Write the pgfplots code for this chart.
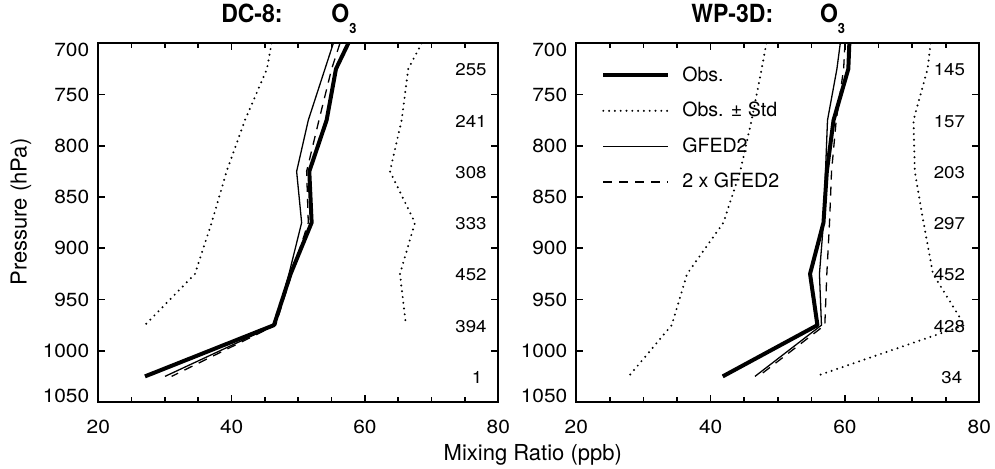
\documentclass[border=0pt]{standalone}
\usepackage{fontspec}
\setmainfont{TeX Gyre Heros}
\newfontfamily\tickfont[FakeStretch=1.1]{TeX Gyre Heros}
\newfontfamily\titlefont[FakeStretch=0.92]{TeX Gyre Heros}
\usepackage{pgfplots}
\pgfplotsset{compat=1.18}

\pgfplotsset{
  o3panel/.style={
    scale only axis, height=179.35pt,
    xmin=20, xmax=80, ymin=700, ymax=1050, y dir=reverse,
    xtick={20,40,60,80}, minor x tick num=3,
    ytick={700,750,...,1050},
    major tick length=3.5pt, minor tick length=2.3pt,
    axis line style={line width=0.9pt},
    tick style={line width=0.8pt, black},
    tick label style={font=\tickfont\fontsize{9.5}{11}\selectfont},
    /pgf/number format/assume math mode=true,
    /pgf/number format/1000 sep={},
    xticklabel style={yshift=-5.3pt},
    yticklabel style={xshift=-1pt, yshift={{-3.5,0,0,0,0,0,0,3}[\ticknum]*1pt}},
    clip mode=individual,
  },
}
\tikzset{
  obs/.style={black, line width=2pt, line join=round},
  gfed/.style={black, line width=0.65pt},
  gfedx/.style={black, line width=0.65pt, dash pattern=on 4.5pt off 3.5pt},
  stdline/.style={black, line width=1.1pt, line cap=round, dash pattern=on 0pt off 2.9pt},
  num/.style={font=\tickfont\fontsize{8.5}{10}\selectfont},
  ttl/.style={font=\titlefont\bfseries\fontsize{12.5}{14}\selectfont, inner sep=0pt},
}
\newcommand{\Othree}{O\raisebox{-5.8pt}{\fontsize{7}{8}\selectfont 3}}

\begin{document}
\begin{tikzpicture}
\useasboundingbox (-49.15pt,-33pt) rectangle (448.35pt,201pt);

% DC-8
\begin{axis}[o3panel, width=200pt]
\addplot[obs] coordinates {(57.5,700) (55.65,725) (54.25,775) (51.65,825) (52,875) (48.85,925) (46.35,975) (27,1025)};
\addplot[stdline] coordinates {(46,700) (45.3,725) (42,775) (39.25,825) (37,875) (34.5,925) (27,975)};
\addplot[stdline] coordinates {(68.5,700) (66.5,725) (65.5,775) (63.75,825) (67.5,875) (65.25,925) (66.15,975)};
\addplot[gfed] coordinates {(55.25,700) (54,725) (51.5,775) (49.75,825) (50.5,875) (48.6,925) (46.5,975) (30,1025)};
\addplot[gfedx] coordinates {(56.25,700) (55,725) (53.1,775) (51.25,825) (51.5,875) (49,925) (46.6,975) (31,1025)};
\node[num] at (axis cs:75.9,726) {255};
\node[num] at (axis cs:75.9,776) {241};
\node[num] at (axis cs:75.9,826) {308};
\node[num] at (axis cs:75.9,876) {333};
\node[num] at (axis cs:75.9,926) {452};
\node[num] at (axis cs:75.9,976) {394};
\node[num] at (axis cs:76.8,1026) {1};
\end{axis}

% WP-3D
\begin{axis}[o3panel, width=201.5pt, at={(239pt,0pt)},
  legend cell align=left,
  legend style={draw=none, fill=none, at={(0.061,0.948)}, anchor=north west, inner sep=0pt,
    column sep=4pt, row sep=5pt, font=\fontsize{9.8}{11}\selectfont},
  legend image code/.code={\draw[#1] (0pt,0pt) -- (32.5pt,0pt);}]
\addplot[obs] coordinates {(60.65,700) (60.5,725) (58.3,775) (57.3,825) (56.8,875) (54.8,925) (55.9,975) (41.8,1025)};
\addlegendentry{Obs.}
\addplot[stdline] coordinates {(48.3,700) (47.6,725) (46.1,775) (44.4,825) (41.9,875) (36.5,925) (34.2,975) (27.8,1025)};
\addlegendentry{Obs. ± Std}
\addplot[stdline, forget plot] coordinates {(72.75,700) (72.3,725) (70.2,775) (70.4,825) (71.7,875) (73.1,925) (77.8,975) (55.6,1025)};
\addplot[gfed] coordinates {(59.3,700) (58.8,725) (57.4,775) (57.1,825) (56.8,875) (56.2,925) (56.5,975) (46.6,1025)};
\addlegendentry{GFED2}
\addplot[gfedx] coordinates {(60,700) (59.8,725) (58.7,775) (58,825) (57.7,875) (57.3,925) (57,975) (47.1,1025)};
\addlegendentry{2 x GFED2}
\node[num] at (axis cs:75.55,726) {145};
\node[num] at (axis cs:75.55,776) {157};
\node[num] at (axis cs:75.55,826) {203};
\node[num] at (axis cs:75.55,876) {297};
\node[num] at (axis cs:75.55,926) {452};
\node[num] at (axis cs:75.55,976) {428};
\node[num] at (axis cs:75.9,1026) {34};
\end{axis}

% titles
\node[ttl, anchor=base east] at (92.35pt,189.95pt) {DC-8:};
\node[ttl, anchor=base west] at (116.35pt,189.95pt) {\Othree};
\node[ttl, anchor=base east] at (337.65pt,189.95pt) {WP-3D:};
\node[ttl, anchor=base west] at (360.65pt,189.95pt) {\Othree};

\node[rotate=90, font=\fontsize{11}{13}\selectfont] at (-38.65pt,95pt) {Pressure (hPa)};
\node[anchor=base west, inner sep=0pt, font=\fontsize{11}{13}\selectfont] at (172.5pt,-29.35pt) {Mixing Ratio (ppb)};
\end{tikzpicture}
\end{document}
